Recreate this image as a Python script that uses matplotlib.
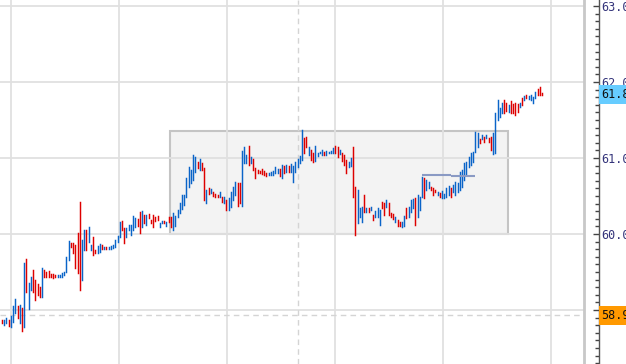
import matplotlib.pyplot as plt
from matplotlib.patches import Rectangle
from matplotlib.ticker import MultipleLocator, FuncFormatter
from matplotlib.transforms import blended_transform_factory

# price bars (open / close), one per period
opens = [
    58.87, 58.80, 58.83, 58.87, 58.78, 58.84, 58.96, 59.05, 58.83, 59.03,
    58.78, 59.67, 59.01, 59.26, 59.53, 59.39, 59.34, 59.30, 59.17, 59.53,
    59.50, 59.51, 59.47, 59.47, 59.46, 59.43, 59.43, 59.43, 59.46, 59.50,
    59.66, 59.88, 59.88, 59.86, 60.01, 60.42, 59.39, 59.79, 60.05,
    59.89, 59.79, 59.96, 59.79, 59.75, 59.76, 59.86, 59.80, 59.83, 59.80,
    59.80, 59.82, 59.83, 59.89, 59.96, 60.17, 60.08, 59.96, 60.05, 59.99,
    60.05, 60.09, 60.20, 60.29, 60.09, 60.25, 60.12, 60.26, 60.18, 60.25,
    60.22, 60.24, 60.09, 60.14, 60.17, 60.10, 60.22, 60.22, 60.05, 60.11,
    60.22, 60.28, 60.33, 60.38, 60.49, 60.62, 60.67, 60.71, 60.82, 60.95,
    60.84, 60.93, 60.87, 60.41, 60.61, 60.54, 60.55, 60.53, 60.51, 60.49,
    60.49, 60.41, 60.45, 60.32, 60.36, 60.45, 60.51, 60.67, 60.67, 60.37,
    60.93, 60.93, 61.16, 60.93, 60.99, 60.87, 60.84, 60.83, 60.86,
    60.83, 60.80, 60.78, 60.78, 60.78, 60.80, 60.80, 60.86, 60.74, 60.89,
    60.82, 60.89, 60.82, 60.68, 60.82, 60.88, 60.93, 60.97, 61.26, 61.28,
    61.04, 61.10, 61.07, 60.96, 61.03, 61.07, 61.04, 61.08, 61.04, 61.07,
    61.07, 61.07, 61.16, 61.14, 61.05, 61.07, 61.04, 60.97, 60.88, 60.89,
    61.14, 60.62,
    60.14, 60.22, 60.16, 60.51, 60.29, 60.34, 60.32, 60.25, 60.22, 60.22,
    60.12, 60.42, 60.41, 60.36, 60.41, 60.28, 60.26, 60.16, 60.18, 60.16,
    60.09, 60.11, 60.34, 60.22, 60.29, 60.34, 60.47, 60.22, 60.32, 60.49,
    60.74, 60.58, 60.61, 60.62, 60.61, 60.58, 60.51, 60.54, 60.47, 60.47,
    60.49,
    60.51, 60.61, 60.55, 60.51, 60.55, 60.58, 60.62, 60.71, 60.78, 60.88,
    60.91, 60.95, 61.08, 61.14, 61.25, 61.25, 61.28, 61.26, 61.26, 61.28,
    61.05, 61.07, 61.50, 61.54, 61.59, 61.76, 61.72, 61.61, 61.75, 61.71,
    61.72, 61.71, 61.67, 61.79, 61.76, 61.83, 61.78, 61.76, 61.72, 61.79,
    61.91, 61.93, 61.86,
]
closes = [
    58.83, 58.87, 58.89, 58.79, 58.92, 59.05, 59.14, 58.89, 59.07, 58.72,
    59.62, 59.24, 59.36, 59.43, 59.24, 59.13, 59.20, 59.17, 59.55, 59.43,
    59.43, 59.43, 59.43, 59.42, 59.43, 59.46, 59.46, 59.49, 59.50, 59.70,
    59.91, 59.83, 59.75, 59.55, 59.49, 59.26, 59.92, 60.05, 59.79,
    60.09, 59.86, 59.72, 59.75, 59.84, 59.87, 59.80, 59.83, 59.80, 59.83,
    59.84, 59.86, 59.92, 59.97, 60.16, 60.05, 59.88, 60.08, 60.12, 60.12,
    60.24, 60.21, 60.10, 60.01, 60.30, 60.14, 60.25, 60.21, 60.14, 60.09,
    60.17, 60.18, 60.14, 60.17, 60.14, 60.16, 60.16, 60.09, 60.27, 60.24,
    60.32, 60.41, 60.51, 60.51, 60.74, 60.88, 60.84, 61.04, 61.01, 60.87,
    60.99, 60.84, 60.45, 60.58, 60.53, 60.59, 60.50, 60.49, 60.49, 60.55,
    60.42, 60.49, 60.32, 60.47, 60.55, 60.62, 60.68, 60.37, 60.41, 61.09,
    61.14, 61.04, 60.91, 61.01, 60.84, 60.74, 60.80, 60.80, 60.79,
    60.78, 60.76, 60.80, 60.82, 60.83, 60.88, 60.86, 60.76, 60.91, 60.80,
    60.91, 60.82, 60.92, 60.89, 60.95, 60.99, 61.03, 61.37, 61.07, 61.14,
    61.14, 60.97, 60.95, 61.16, 61.07, 61.08, 61.10, 61.04, 61.09, 61.08,
    61.09, 61.13, 61.07, 61.01, 61.11, 60.96, 60.91, 60.80, 60.95, 61.00,
    60.49, 59.99,
    60.58, 60.34, 60.36, 60.29, 60.34, 60.29, 60.36, 60.18, 60.30, 60.34,
    60.32, 60.34, 60.25, 60.45, 60.25, 60.22, 60.20, 60.22, 60.11, 60.11,
    60.16, 60.24, 60.21, 60.36, 60.45, 60.46, 60.12, 60.51, 60.49, 60.75,
    60.47, 60.71, 60.68, 60.58, 60.51, 60.55, 60.55, 60.49, 60.57, 60.53,
    60.61,
    60.63, 60.49, 60.64, 60.68, 60.67, 60.82, 60.84, 60.93, 60.95, 61.01,
    61.07, 61.08, 61.34, 61.33, 61.20, 61.30, 61.21, 61.30, 61.21, 61.11,
    61.33, 61.59, 61.76, 61.66, 61.72, 61.59, 61.62, 61.70, 61.59, 61.59,
    61.57, 61.61, 61.72, 61.70, 61.82, 61.79, 61.82, 61.83, 61.80, 61.87,
    61.83, 61.83, 61.83,
]

last_price = 61.83
ref_price = 58.93
# consolidation box (bar index range and price range)
box_bars = [75.5, 227.5]
box_prices = [60.00, 61.355]
# short level line drawn by the user
level_bars = [189, 202, 213]
level_prices = [60.77, 60.76]
marker_bar = 133

BLUE = '#0a64c8'
RED = '#dd0000'
GRID = '#e0e0e0'

W, H = 626, 364
fig = plt.figure(figsize=(W / 100, H / 100), dpi=100)
fig.patch.set_facecolor('white')

ax = fig.add_axes([0, 0, 584 / W, 1])
n = len(closes)
step = 540 / (n - 1)
ax.set_xlim(-2 / step, (n - 1) + 42 / step)
ymin, ymax = 58.289, 63.079
ax.set_ylim(ymin, ymax)
ax.set_xticks([])
ax.set_yticks([])
for s in ['left', 'top', 'bottom']:
    ax.spines[s].set_visible(False)
ax.spines['right'].set_color('#c8c8c8')
ax.spines['right'].set_linewidth(2)

# grid
for p in range(59, 64):
    ax.axhline(p, color=GRID, lw=1.3, zorder=1)
for k in range(6):
    ax.axvline((11 + 108 * k - 2) / step, color=GRID, lw=1.3, zorder=1)

ax.axhline(ref_price, color='#d4d4d4', lw=1, ls=(0, (4, 3)), zorder=1)
ax.axvline(marker_bar, color='#d4d4d4', lw=1, ls=(0, (4, 3)), zorder=1)

ax.add_patch(Rectangle((box_bars[0], box_prices[0]), box_bars[1] - box_bars[0],
                       box_prices[1] - box_prices[0], facecolor='#f3f3f3',
                       edgecolor='#c4c4c4', lw=1.5, zorder=0.5))

# bars
xs = list(range(n))
lo = [min(o, c) for o, c in zip(opens, closes)]
hi = [max(o, c) for o, c in zip(opens, closes)]
cols = [BLUE if c >= o else RED for o, c in zip(opens, closes)]
lc = ax.vlines(xs, lo, hi, colors=cols, lw=1.05, zorder=3)
lc.set_capstyle('projecting')

ax.hlines(level_prices, level_bars[:-1], level_bars[1:], color='#8a9ac4', lw=1.5, zorder=4)

# price scale
ax2 = fig.add_axes([585 / W, 0, 13.5 / W, 1])
ax2.set_ylim(ymin, ymax)
ax2.set_xticks([])
for s in ['left', 'top', 'bottom']:
    ax2.spines[s].set_visible(False)
ax2.spines['right'].set_color('#555555')
ax2.spines['right'].set_linewidth(1)
ax2.patch.set_alpha(0)
ax2.yaxis.set_major_locator(MultipleLocator(1.0))
ax2.yaxis.set_minor_locator(MultipleLocator(0.1))
ax2.yaxis.set_major_formatter(FuncFormatter(lambda v, pos: f'{v:.2f}'))
ax2.tick_params(axis='y', which='both', direction='in', left=False, right=True,
                labelleft=False, labelright=True, colors='#444444', pad=2)
ax2.tick_params(axis='y', which='major', length=4, width=1, labelsize=8.5,
                labelcolor='#33337a')
ax2.tick_params(axis='y', which='minor', length=2.6, width=1)
for lab in ax2.get_yticklabels():
    lab.set_family('DejaVu Sans Mono')

tr = blended_transform_factory(ax2.transAxes, ax2.transData)
ax2.text(1.22, last_price, f'{last_price:.2f}', transform=tr, ha='left', va='center',
         family='DejaVu Sans Mono', fontsize=8.5, color='#111111',
         bbox=dict(boxstyle='square,pad=0.25', fc='#66ccff', ec='none'), zorder=5)
ax2.text(1.22, ref_price, f'{ref_price:.2f}', transform=tr, ha='left', va='center',
         family='DejaVu Sans Mono', fontsize=8.5, color='#111111',
         bbox=dict(boxstyle='square,pad=0.25', fc='#ff9900', ec='none'), zorder=5)

fig.savefig('out.png', dpi=100)
